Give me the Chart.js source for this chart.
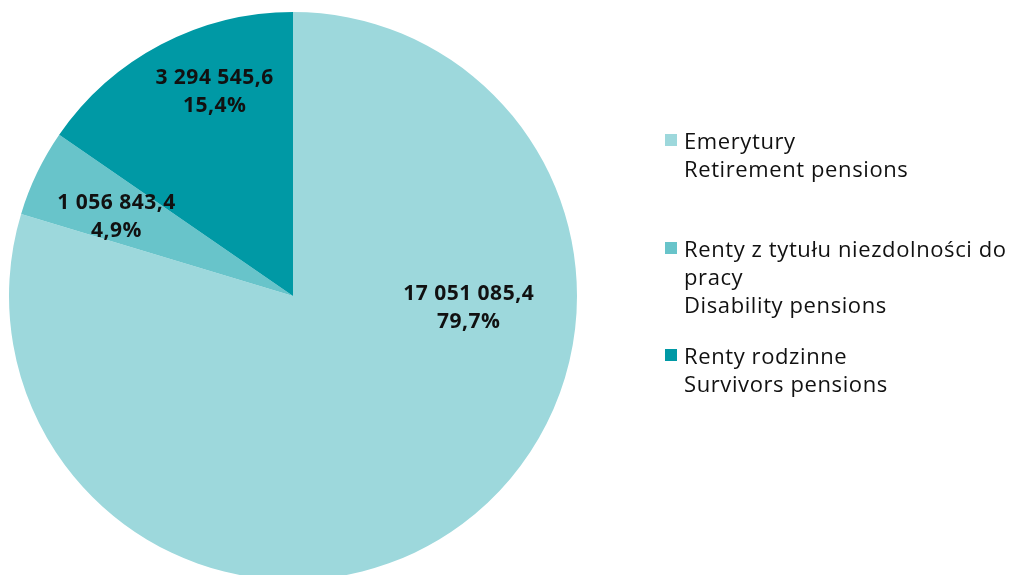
<!DOCTYPE html>
<html>
<head>
<meta charset="utf-8">
<script src="https://cdn.jsdelivr.net/npm/chart.js@4.4.1/dist/chart.umd.min.js"></script>
<style>
  html, body { margin: 0; padding: 0; background: #fff; overflow: hidden; }
  #wrap { position: relative; width: 1014px; height: 575px; overflow: hidden; }
  #chart { position: absolute; left: 0; top: 0; }
  .legend { position: absolute; left: 665px; font-family: "Open Sans", sans-serif; font-size: 22px; letter-spacing: 0.6px; line-height: 28px; color: #111; }
  .legend .item { position: absolute; left: 0; white-space: nowrap; }
  .legend .box { position: absolute; left: 0; top: 8px; width: 12px; height: 12px; }
  .legend .txt { position: absolute; left: 19px; top: 0; }
</style>
</head>
<body>
<div id="wrap">
  <canvas id="chart"></canvas>
  <div class="legend" id="legend"></div>
</div>
<script>
// --- Data ---
const categoriesPl = ['Emerytury', 'Renty z tytułu niezdolności do pracy', 'Renty rodzinne'];
const categoriesEn = ['Retirement pensions', 'Disability pensions', 'Survivors pensions'];
const values = [17051085.4, 1056843.4, 3294545.6];
const valueLabels = ['17 051 085,4', '1 056 843,4', '3 294 545,6'];
const percentLabels = ['79,7%', '4,9%', '15,4%'];
const colors = ['#9dd8dc', '#68c4ca', '#0099a5'];

// label anchors: angle (deg, clockwise from top) and radius fraction
const labelAnchors = [[94, 0.62], [294, 0.68], [339, 0.77]];

// legend layout (wrapped lines in the legend)
const legendLines = [
    ['Emerytury', 'Retirement pensions'],
    ['Renty z tytułu niezdolności do', 'pracy', 'Disability pensions'],
    ['Renty rodzinne', 'Survivors pensions']
];
const legendTops = [126, 234, 341];

window.onload = () => {
    initLegend();
    initChart();
};

function initLegend() {
    const el = document.getElementById('legend');
    el.innerHTML = legendLines.map((lines, i) => `
        <div class="item" style="top:${legendTops[i]}px">
            <div class="box" style="background:${colors[i]}"></div>
            <div class="txt">${lines.join('<br>')}</div>
        </div>
    `).join('');
}

const sliceLabels = {
    id: 'sliceLabels',
    afterDatasetsDraw(chart) {
        const ctx = chart.ctx;
        const meta = chart.getDatasetMeta(0);
        ctx.save();
        ctx.font = 'bold 21px "Open Sans", sans-serif';
        ctx.letterSpacing = '0.5px';
        ctx.fillStyle = '#111';
        ctx.textAlign = 'center';
        ctx.textBaseline = 'middle';
        meta.data.forEach((arc, i) => {
            const [deg, f] = labelAnchors[i];
            const a = (deg - 90) * Math.PI / 180;
            const r = arc.outerRadius * f;
            const x = arc.x + Math.cos(a) * r;
            const y = arc.y + Math.sin(a) * r;
            ctx.fillText(valueLabels[i], x, y - 14);
            ctx.fillText(percentLabels[i], x, y + 14);
        });
        ctx.restore();
    }
};

function initChart() {
    const canvas = document.getElementById('chart');
    canvas.width = 1014;
    canvas.height = 592;
    canvas.style.width = '1014px';
    canvas.style.height = '592px';
    new Chart(canvas.getContext('2d'), {
        type: 'pie',
        data: {
            labels: categoriesPl,
            datasets: [{
                data: values,
                backgroundColor: colors,
                borderWidth: 0
            }]
        },
        options: {
            responsive: false,
            animation: false,
            layout: { padding: { left: 9, right: 437, top: 12, bottom: 12 } },
            plugins: {
                legend: { display: false },
                tooltip: { enabled: false }
            }
        },
        plugins: [sliceLabels]
    });
}
</script>
</body>
</html>
